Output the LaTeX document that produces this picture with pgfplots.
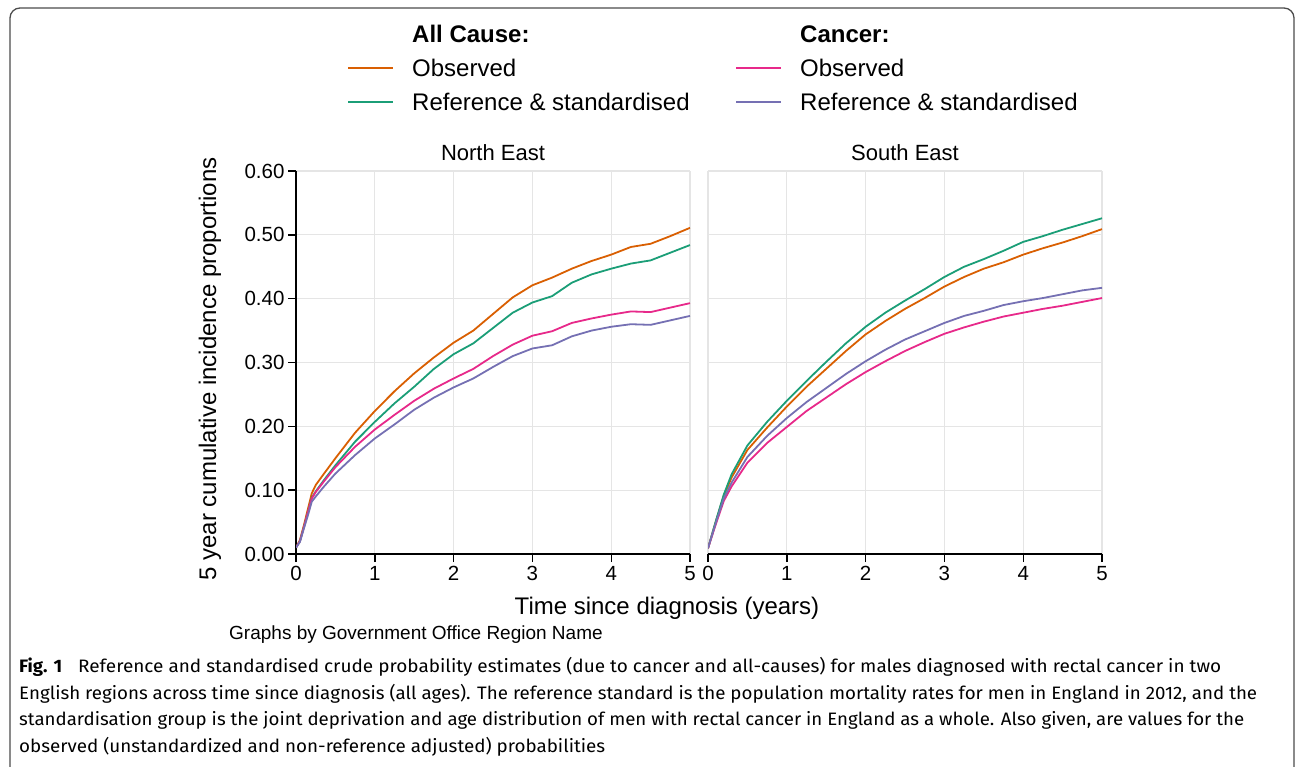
\documentclass[border=0pt]{standalone}
\usepackage{fontspec}
\setmainfont{Liberation Sans}
\newfontfamily\capfont{Fira Sans}
\usepackage{graphicx}
\usepackage{pgfplots}
\usepackage{pgfplotstable}
\pgfplotsset{compat=1.18}
\definecolor{cAO}{HTML}{D95F02}
\definecolor{cAR}{HTML}{1B9E77}
\definecolor{cCO}{HTML}{E7298A}
\definecolor{cCR}{HTML}{7570B3}

\pgfplotstableread{
x aco acr cao car
0 0.010 0.010 0.010 0.010
0.05 0.022 0.020 0.020 0.019
0.10 0.045 0.042 0.042 0.040
0.15 0.070 0.065 0.065 0.060
0.20 0.095 0.088 0.087 0.082
0.25 0.108 0.098 0.097 0.090
0.35 0.125 0.115 0.113 0.105
0.50 0.150 0.139 0.136 0.126
0.75 0.190 0.176 0.168 0.155
1.00 0.224 0.207 0.195 0.181
1.25 0.255 0.236 0.218 0.203
1.50 0.283 0.262 0.240 0.226
1.75 0.308 0.290 0.259 0.245
2.00 0.331 0.313 0.275 0.261
2.25 0.350 0.330 0.290 0.275
2.50 0.376 0.354 0.310 0.293
2.75 0.402 0.378 0.328 0.310
3.00 0.421 0.394 0.342 0.322
3.25 0.433 0.404 0.349 0.327
3.50 0.447 0.425 0.362 0.341
3.75 0.459 0.438 0.369 0.350
4.00 0.469 0.447 0.375 0.356
4.25 0.481 0.455 0.380 0.360
4.50 0.486 0.460 0.379 0.359
4.75 0.498 0.472 0.386 0.366
5.00 0.511 0.484 0.393 0.373
}\northeast

\pgfplotstableread{
x aco acr cao car
0 0.009 0.009 0.009 0.009
0.10 0.051 0.052 0.047 0.049
0.20 0.091 0.093 0.083 0.087
0.30 0.120 0.125 0.106 0.112
0.50 0.163 0.170 0.143 0.152
0.75 0.198 0.207 0.174 0.185
1.00 0.231 0.240 0.199 0.213
1.25 0.262 0.271 0.224 0.238
1.50 0.290 0.301 0.245 0.260
1.75 0.318 0.330 0.266 0.282
2.00 0.344 0.356 0.285 0.302
2.25 0.365 0.378 0.302 0.320
2.50 0.384 0.397 0.318 0.336
2.75 0.401 0.415 0.332 0.349
3.00 0.419 0.434 0.345 0.362
3.25 0.434 0.450 0.355 0.373
3.50 0.447 0.462 0.364 0.381
3.75 0.457 0.475 0.372 0.390
4.00 0.469 0.489 0.378 0.396
4.25 0.479 0.498 0.384 0.401
4.50 0.488 0.508 0.389 0.407
4.75 0.498 0.517 0.395 0.413
5.00 0.509 0.526 0.401 0.417
}\southeast

\pgfplotsset{
  panel/.style={
    scale only axis, width=394pt, height=383pt, anchor=south west,
    xmin=0, xmax=5, ymin=0, ymax=0.6,
    xtick={0,1,2,3,4,5}, ytick={0,0.1,0.2,0.3,0.4,0.5,0.6},
    grid=major, grid style={draw=black!10, line width=1.2pt},
    axis x line=bottom, axis y line=left,
    axis line style={-, line width=1.4pt, black},
    tick align=outside, major tick length=8pt,
    tick style={line width=1.4pt, black},
    tick label style={font=\fontsize{20.5}{24}\selectfont},
    /pgf/number format/assume math mode=true,
    yticklabel style={/pgf/number format/.cd, fixed, fixed zerofill, precision=2},
    xticklabel style={yshift=-1pt},
    every axis plot/.append style={line width=1.8pt, no markers},
  }
}

\begin{document}
\begin{tikzpicture}
\path[use as bounding box] (0pt,0pt) rectangle (1298pt,-766pt);
\clip (0pt,0pt) rectangle (1298pt,-766pt);
\draw[rounded corners=10pt, line width=1.3pt, black!70] (10pt,-8pt) rectangle (1294pt,-778pt);

% legend
\node[anchor=west, inner sep=0, font=\fontsize{24}{28}\selectfont\bfseries] at (412pt,-34pt) {All Cause:};
\node[anchor=west, inner sep=0, font=\fontsize{24}{28}\selectfont] at (412pt,-68pt) {Observed};
\node[anchor=west, inner sep=0, font=\fontsize{24}{28}\selectfont] at (412pt,-102pt) {Reference \& standardised};
\draw[cAO, line width=1.8pt] (348pt,-68pt) -- (393pt,-68pt);
\draw[cAR, line width=1.8pt] (348pt,-102pt) -- (393pt,-102pt);
\node[anchor=west, inner sep=0, font=\fontsize{24}{28}\selectfont\bfseries] at (800pt,-34pt) {Cancer:};
\node[anchor=west, inner sep=0, font=\fontsize{24}{28}\selectfont] at (800pt,-68pt) {Observed};
\node[anchor=west, inner sep=0, font=\fontsize{24}{28}\selectfont] at (800pt,-102pt) {Reference \& standardised};
\draw[cCO, line width=1.8pt] (736pt,-68pt) -- (781pt,-68pt);
\draw[cCR, line width=1.8pt] (736pt,-102pt) -- (781pt,-102pt);

% left panel
\begin{axis}[panel, at={(296pt,-554pt)}]
\addplot[cAO] table[x=x, y=aco] {\northeast};
\addplot[cAR] table[x=x, y=acr] {\northeast};
\addplot[cCO] table[x=x, y=cao] {\northeast};
\addplot[cCR] table[x=x, y=car] {\northeast};
\end{axis}

% right panel
\begin{axis}[panel, at={(708pt,-554pt)},
  y axis line style={draw=none}, yticklabels={}, major y tick style={draw=none}]
\addplot[cAO] table[x=x, y=aco] {\southeast};
\addplot[cAR] table[x=x, y=acr] {\southeast};
\addplot[cCO] table[x=x, y=cao] {\southeast};
\addplot[cCR] table[x=x, y=car] {\southeast};
\end{axis}

\node[font=\fontsize{22}{26}\selectfont] at (493pt,-153pt) {North East};
\node[font=\fontsize{22}{26}\selectfont] at (905pt,-153pt) {South East};
\node[rotate=90, font=\fontsize{24}{28}\selectfont] at (210pt,-369pt) {5 year cumulative incidence proportions};
\node[font=\fontsize{24}{28}\selectfont] at (667pt,-608pt) {Time since diagnosis (years)};
\node[anchor=west, inner sep=0, font=\fontsize{19}{22}\selectfont] at (229pt,-635pt) {Graphs by Government Office Region Name};

% caption
\node[anchor=base west, inner sep=0] at (19pt,-672pt) {\resizebox{43pt}{\height}{\capfont\fontsize{18}{20}\selectfont\bfseries Fig. 1}};
\node[anchor=base west, inner sep=0] at (78pt,-672pt) {\resizebox{1143pt}{\height}{\capfont\fontsize{18}{20}\selectfont Reference and standardised crude probability estimates (due to cancer and all-causes) for males diagnosed with rectal cancer in two}};
\node[anchor=base west, inner sep=0] at (19pt,-699pt) {\resizebox{1238pt}{\height}{\capfont\fontsize{18}{20}\selectfont English regions across time since diagnosis (all ages). The reference standard is the population mortality rates for men in England in 2012, and the}};
\node[anchor=base west, inner sep=0] at (19pt,-725pt) {\resizebox{1225pt}{\height}{\capfont\fontsize{18}{20}\selectfont standardisation group is the joint deprivation and age distribution of men with rectal cancer in England as a whole. Also given, are values for the}};
\node[anchor=base west, inner sep=0] at (19pt,-752pt) {\resizebox{586pt}{\height}{\capfont\fontsize{18}{20}\selectfont observed (unstandardized and non-reference adjusted) probabilities}};
\end{tikzpicture}
\end{document}
